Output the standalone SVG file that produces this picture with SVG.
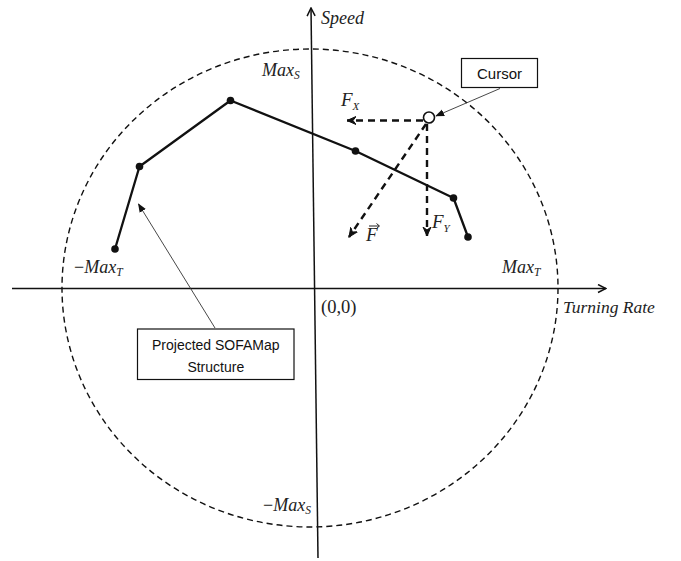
<svg xmlns="http://www.w3.org/2000/svg" width="681" height="561" viewBox="0 0 681 561">
<style>
.m{font-family:"Liberation Serif",serif;font-style:italic;fill:#222}
.s{font-family:"Liberation Sans",Arial,sans-serif;fill:#111}
.ax{stroke:#111;stroke-width:1.5;fill:none}
.dash{stroke:#111;stroke-width:2.4;fill:none;stroke-dasharray:7,5}
.thin{stroke:#333;stroke-width:0.9;fill:none}
</style>
<defs>
<marker id="chev" viewBox="0 0 10 10" refX="9" refY="5" markerWidth="10" markerHeight="10" markerUnits="userSpaceOnUse" orient="auto">
<path d="M1,1 L9,5 L1,9" fill="none" stroke="#111" stroke-width="1.5"/>
</marker>
<marker id="dchev" viewBox="0 0 10 10" refX="9" refY="5" markerWidth="10" markerHeight="10" markerUnits="userSpaceOnUse" orient="auto">
<path d="M0,1 L9,5 L0,9 L3,5 Z" fill="#111" stroke="#111" stroke-width="1"/>
</marker>
<marker id="tri" viewBox="0 0 10 10" refX="9" refY="5" markerWidth="9" markerHeight="9" markerUnits="userSpaceOnUse" orient="auto">
<path d="M0,1 L10,5 L0,9 Z" fill="#111"/>
</marker>
</defs>
<rect width="681" height="561" fill="#fff"/>

<g id="range">
<ellipse cx="310" cy="288" rx="248" ry="239" fill="none" stroke="#111" stroke-width="1.4" stroke-dasharray="6,4"/>
</g>

<g id="axes">
<line class="ax" x1="12" y1="288.5" x2="606" y2="288.5" marker-end="url(#chev)"/>
<line class="ax" x1="318" y1="558" x2="311" y2="8" marker-end="url(#chev)"/>
</g>

<g id="structure">
<polyline points="115,249 139.5,166.5 230.5,100.5 355.5,151 453.5,198 468,237" fill="none" stroke="#111" stroke-width="2.3" stroke-linejoin="round"/>
<g fill="#111">
<circle cx="115" cy="249" r="3.8"/>
<circle cx="139.5" cy="166.5" r="3.8"/>
<circle cx="230.5" cy="100.5" r="3.8"/>
<circle cx="355.5" cy="151" r="3.8"/>
<circle cx="453.5" cy="198" r="3.8"/>
<circle cx="468" cy="237" r="3.8"/>
</g>
</g>

<g id="connectors">
<line class="dash" x1="423" y1="120.5" x2="347" y2="120.5" marker-end="url(#dchev)"/>
<line class="dash" x1="427" y1="124" x2="427" y2="236" marker-end="url(#dchev)"/>
<line class="dash" x1="426" y1="124" x2="349" y2="237" marker-end="url(#dchev)"/>
<line class="thin" x1="500" y1="88.5" x2="436" y2="116" marker-end="url(#tri)"/>
<line class="thin" x1="215" y1="328" x2="138.5" y2="204" marker-end="url(#tri)"/>
</g>

<g id="cursor">
<circle cx="429" cy="117.5" r="5.5" fill="#fff" stroke="#111" stroke-width="1.6"/>
</g>

<g id="cursor-label">
<rect x="461.5" y="58.5" width="76" height="29" fill="#fff" stroke="#111" stroke-width="1.2"/>
<text class="s" x="499.5" y="78.5" font-size="15" text-anchor="middle">Cursor</text>
</g>

<g id="structure-label">
<rect x="137.5" y="329" width="156.5" height="50.5" fill="#fff" stroke="#111" stroke-width="1.2"/>
<text class="s" x="215.8" y="350" font-size="14" text-anchor="middle">Projected SOFAMap</text>
<text class="s" x="215.8" y="371.5" font-size="14" text-anchor="middle">Structure</text>
</g>

<g id="labels">
<text class="m" x="321" y="24" font-size="18">Speed</text>
<text class="m" x="563" y="313" font-size="17.5">Turning Rate</text>
<text x="321" y="312.5" font-size="18.5" font-family="Liberation Serif,serif" fill="#222">(0,0)</text>
<text class="m" x="262" y="76" font-size="18">Max<tspan font-size="11.5" dy="3">S</tspan></text>
<text class="m" x="502" y="273" font-size="18">Max<tspan font-size="11.5" dy="3">T</tspan></text>
<text class="m" x="74" y="273" font-size="18"><tspan font-style="normal">−</tspan>Max<tspan font-size="11.5" dy="3">T</tspan></text>
<text class="m" x="263" y="511" font-size="18"><tspan font-style="normal">−</tspan>Max<tspan font-size="11.5" dy="3">S</tspan></text>
<text class="m" x="341" y="106" font-size="19">F<tspan font-size="11" dy="4">X</tspan></text>
<text class="m" x="432" y="228" font-size="19">F<tspan font-size="11" dy="4">Y</tspan></text>
<text class="m" x="366" y="241" font-size="19">F</text>
<path d="M369,226 L379,226 M376.5,223.5 L379.5,226 L376.5,228.5" fill="none" stroke="#222" stroke-width="1"/>
</g>
</svg>
